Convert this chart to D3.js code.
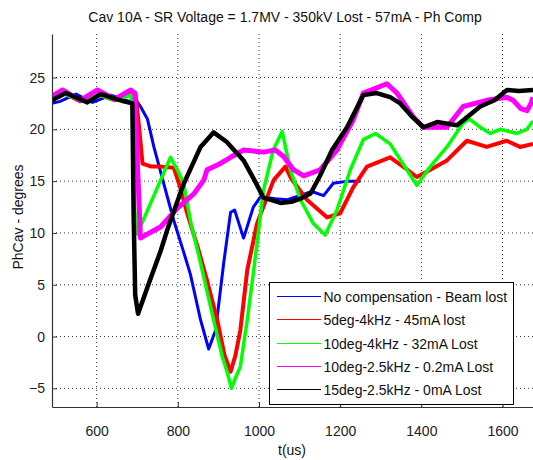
<!DOCTYPE html>
<html>
<head>
<meta charset="utf-8">
<script src="https://cdn.jsdelivr.net/npm/d3@7"></script>
<style>
  body { margin: 0; background: #fff; }
  svg { display: block; font-family: "Liberation Sans", Arial, sans-serif; }
</style>
</head>
<body>
<svg></svg>
<script>
const svgWidth = 533;
const svgHeight = 460;

// time axis ticks and value ticks
const xTicks = [600, 800, 1000, 1200, 1400, 1600];
const yTicks = [-5, 0, 5, 10, 15, 20, 25];

const seriesNames = [
  "No compensation - Beam lost",
  "5deg-4kHz - 45mA lost",
  "10deg-4kHz - 32mA Lost",
  "10deg-2.5kHz - 0.2mA Lost",
  "15deg-2.5kHz - 0mA Lost"
];
const seriesColors = ["#0000ff", "#ff0000", "#00ff00", "#ff00ff", "#000000"];

// t in us, phase in degrees
const blueT = [490, 510, 549, 590, 635, 680, 696, 708, 725, 741, 765, 790, 814, 831, 856, 876, 893, 913, 930, 940, 962, 986, 1004, 1040, 1070, 1100, 1130, 1159, 1183, 1220, 1250];
const blueV = [22.5, 22.7, 23.4, 22.6, 23.3, 22.7, 22.9, 22.2, 21.0, 18.3, 14.8, 11.2, 8.2, 6.0, 1.6, -1.2, 0.6, 7.1, 12.0, 12.2, 9.5, 12.5, 13.5, 13.3, 13.2, 13.6, 14.0, 13.6, 14.8, 15.0, 15.0];

const redT = [490, 520, 560, 600, 645, 684, 696, 705, 713, 735, 758, 790, 805, 823, 850, 872, 897, 915, 930, 942, 954, 971, 995, 1036, 1065, 1080, 1118, 1168, 1200, 1232, 1266, 1323, 1355, 1389, 1422, 1463, 1512, 1561, 1610, 1643, 1675];
const redV = [23.0, 23.5, 22.7, 23.4, 22.8, 23.5, 23.4, 20.0, 16.7, 16.4, 16.4, 16.3, 14.5, 11.9, 8.5, 5.4, 1.6, -1.8, -3.4, -1.8, 0.6, 6.4, 10.9, 15.1, 16.4, 15.2, 13.2, 11.5, 11.9, 14.4, 16.4, 17.3, 16.4, 15.4, 16.1, 17.0, 18.9, 18.3, 18.9, 18.3, 18.6];

const greenT = [490, 520, 560, 600, 645, 684, 688, 694, 700, 740, 782, 800, 814, 832, 856, 888, 910, 922, 932, 942, 954, 971, 986, 1011, 1035, 1057, 1077, 1102, 1134, 1163, 1192, 1225, 1257, 1287, 1323, 1364, 1389, 1422, 1463, 1503, 1518, 1545, 1570, 1594, 1635, 1660, 1675];
const greenV = [23.0, 23.4, 22.8, 23.4, 22.8, 23.3, 22.0, 12.0, 9.9, 13.5, 17.3, 16.0, 14.8, 11.0, 7.1, 1.6, -2.0, -3.5, -5.0, -4.0, -2.9, 1.6, 6.1, 14.1, 18.0, 19.8, 16.1, 13.2, 10.9, 9.8, 12.2, 16.1, 19.0, 19.6, 18.6, 16.1, 14.6, 16.4, 18.3, 20.6, 21.0, 20.2, 19.6, 20.0, 19.6, 20.0, 20.8];

const magentaT = [490, 516, 560, 602, 645, 684, 694, 700, 708, 730, 758, 799, 840, 864, 872, 900, 930, 962, 1011, 1040, 1060, 1085, 1110, 1151, 1192, 1232, 1257, 1290, 1315, 1340, 1380, 1405, 1463, 1503, 1561, 1610, 1626, 1645, 1660, 1670, 1675];
const magentaV = [23.2, 23.8, 22.8, 23.8, 22.9, 23.8, 23.5, 17.0, 9.5, 10.0, 10.6, 12.4, 13.8, 15.1, 16.1, 16.6, 17.3, 18.0, 17.8, 18.0, 17.4, 16.1, 15.5, 16.1, 18.0, 20.9, 23.5, 24.0, 24.4, 23.5, 21.2, 20.2, 20.2, 22.2, 22.8, 23.1, 22.8, 22.0, 21.8, 22.5, 23.1];

const blackT = [490, 524, 577, 610, 667, 688, 691, 695, 702, 730, 758, 774, 814, 856, 888, 920, 962, 990, 1011, 1053, 1080, 1102, 1127, 1150, 1180, 1217, 1257, 1290, 1323, 1348, 1375, 1405, 1439, 1488, 1545, 1580, 1611, 1640, 1675];
const blackV = [22.8, 23.5, 22.6, 23.4, 22.7, 22.5, 12.0, 4.0, 2.2, 5.3, 8.3, 10.3, 14.7, 18.3, 19.7, 18.8, 17.0, 15.0, 13.4, 12.9, 13.0, 13.3, 13.8, 15.5, 18.0, 20.2, 23.3, 23.5, 23.1, 22.5, 21.3, 20.2, 20.7, 20.4, 22.2, 22.8, 23.8, 23.7, 23.8];

const seriesT = [blueT, redT, greenT, magentaT, blackT];
const seriesV = [blueV, redV, greenV, magentaV, blackV];
// the measured traces are noisy, so they read as thick bands
const seriesWidth = [3, 4, 3.5, 5, 4.5];

const margin = { top: 34, right: 0, bottom: 53, left: 52 };
const plotW = svgWidth - margin.left - margin.right;
const plotH = svgHeight - margin.top - margin.bottom;

const svg = d3.select("svg")
  .attr("width", svgWidth)
  .attr("height", svgHeight);

const x = d3.scaleLinear().domain([490, 1675]).range([0, plotW]);
const y = d3.scaleLinear().domain([-6.8, 29.2]).range([plotH, 0]);

const g = svg.append("g")
  .attr("transform", `translate(${margin.left},${margin.top})`);

g.append("clipPath").attr("id", "clip")
  .append("rect").attr("width", plotW).attr("height", plotH);

// dotted grid
g.append("g").selectAll("line").data(xTicks).join("line")
  .attr("x1", d => x(d)).attr("x2", d => x(d))
  .attr("y1", 0).attr("y2", plotH)
  .attr("stroke", "#000").attr("stroke-width", 0.8)
  .attr("stroke-dasharray", "1,3");
g.append("g").selectAll("line").data(yTicks).join("line")
  .attr("x1", 0).attr("x2", plotW)
  .attr("y1", d => y(d)).attr("y2", d => y(d))
  .attr("stroke", "#000").attr("stroke-width", 0.8)
  .attr("stroke-dasharray", "1,3");

// the traces
const line = d3.line()
  .x(d => x(d[0]))
  .y(d => y(d[1]));

g.append("g").attr("clip-path", "url(#clip)")
  .selectAll("path")
  .data(seriesT.map((ts, i) => ts.map((t, j) => [t, seriesV[i][j]])))
  .join("path")
  .attr("d", line)
  .attr("fill", "none")
  .attr("stroke", (d, i) => seriesColors[i])
  .attr("stroke-width", (d, i) => seriesWidth[i])
  .attr("stroke-linejoin", "round");

// axes, ticks inward like matlab
const xAxis = g.append("g")
  .attr("transform", `translate(0,${plotH})`)
  .call(d3.axisBottom(x).tickValues(xTicks).tickFormat(d3.format("d"))
    .tickSizeInner(-5).tickSizeOuter(0).tickPadding(19));
const yAxis = g.append("g")
  .call(d3.axisLeft(y).tickValues(yTicks).tickSizeInner(-5).tickSizeOuter(0).tickPadding(7));

[xAxis, yAxis].forEach(a => {
  a.select(".domain").attr("stroke", "#333").attr("stroke-width", 1.2);
  a.selectAll(".tick line").attr("stroke", "#333");
  a.selectAll("text").attr("font-size", 14).attr("fill", "#222")
    .attr("font-family", "Liberation Sans, Arial, sans-serif");
});

// legend
const legend = g.append("g").attr("transform", "translate(217.5,248.5)");
legend.append("rect")
  .attr("width", 244).attr("height", 122)
  .attr("fill", "#fff").attr("stroke", "#000").attr("stroke-width", 1);
const items = legend.selectAll(".item").data(seriesNames).join("g")
  .attr("class", "item")
  .attr("transform", (d, i) => `translate(0,${Math.round(14 + i * 23.3)})`);
items.append("line")
  .attr("x1", 7).attr("x2", 51)
  .attr("stroke", (d, i) => seriesColors[i]).attr("stroke-width", 1)
  .attr("shape-rendering", "crispEdges");
items.append("text")
  .attr("x", 54).attr("dy", "0.36em")
  .attr("font-size", 14).attr("fill", "#111")
  .text(d => d);

// labels
svg.append("text")
  .attr("x", 285).attr("y", 22)
  .attr("text-anchor", "middle").attr("font-size", 14).attr("fill", "#111")
  .text("Cav 10A - SR Voltage = 1.7MV - 350kV Lost - 57mA - Ph Comp");
svg.append("text")
  .attr("x", 292).attr("y", 455)
  .attr("text-anchor", "middle").attr("font-size", 14).attr("fill", "#111")
  .text("t(us)");
svg.append("text")
  .attr("transform", "translate(23,217) rotate(-90)")
  .attr("text-anchor", "middle").attr("font-size", 14).attr("fill", "#111")
  .text("PhCav - degrees");
</script>
</body>
</html>
